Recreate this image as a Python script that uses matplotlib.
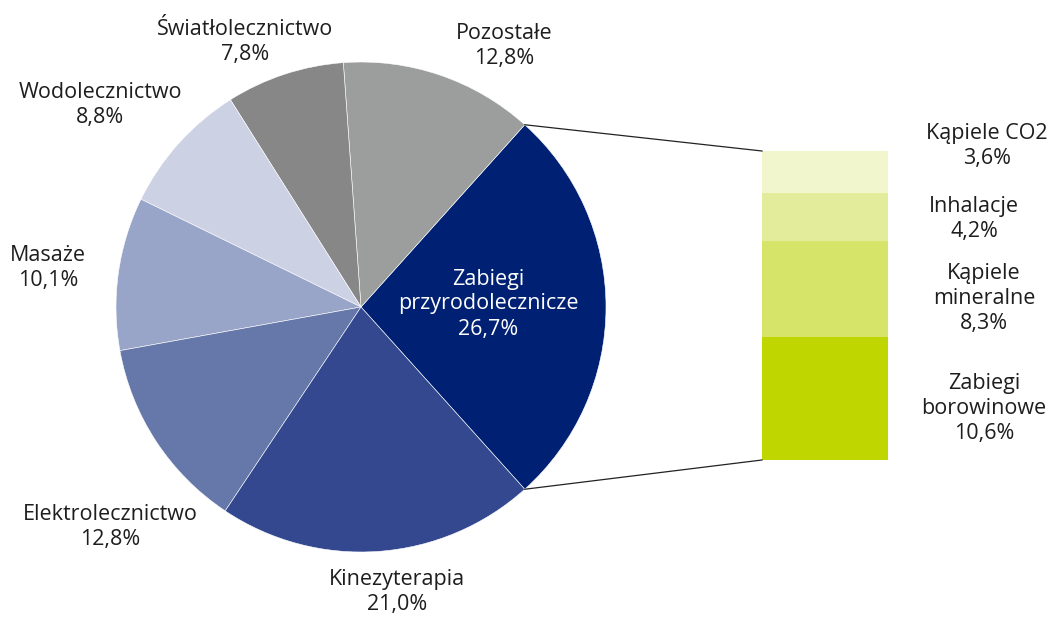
import numpy as np
import matplotlib
matplotlib.use("Agg")
import matplotlib.pyplot as plt

# Main pie data (counterclockwise, starting with the exploded-to-bar slice)
pie_labels = ["Zabiegi\nprzyrodolecznicze", "Pozostałe", "Światłolecznictwo", "Wodolecznictwo",
              "Masaże", "Elektrolecznictwo", "Kinezyterapia"]
pie_values = [26.7, 12.8, 7.8, 8.8, 10.1, 12.8, 21.0]
pie_colors = ["#002173", "#9c9e9d", "#878787", "#ccd2e4", "#99a5c8", "#6677aa", "#33488f"]

# Breakdown of "Zabiegi przyrodolecznicze", bottom to top
bar_labels = ["Zabiegi\nborowinowe", "Kąpiele\nmineralne", "Inhalacje", "Kąpiele CO2"]
bar_values = [10.6, 8.3, 4.2, 3.6]
bar_colors = ["#c0d600", "#d6e46a", "#e3ec9b", "#f1f6cd"]

W, H = 1061, 619
plt.rcParams["font.family"] = ["Open Sans", "DejaVu Sans"]

fig = plt.figure(figsize=(W / 100, H / 100), dpi=100)
ax = fig.add_axes([0, 0, 1, 1])

cx, cy, r = 361, H - 307, 245
start = -pie_values[0] / 100 * 360 / 2
wedges, _ = ax.pie(pie_values, colors=pie_colors, startangle=start, counterclock=True,
                   center=(cx, cy), radius=r, frame=True,
                   wedgeprops=dict(edgecolor="white", linewidth=0.4))
ax.set_xlim(0, W)
ax.set_ylim(0, H)
ax.set_aspect("equal")
ax.axis("off")

# stacked bar for the breakdown
bx, bw = 825, 126
scale = 309 / sum(bar_values)
bottom = H - 460
for v, c in zip(bar_values, bar_colors):
    ax.bar(bx, v * scale, width=bw, bottom=bottom, color=c, linewidth=0)
    bottom += v * scale

# connector lines from the slice edges to the bar corners
w0 = wedges[0]
t1, t2 = np.radians(w0.theta1), np.radians(w0.theta2)
ax.plot([cx + r * np.cos(t2), bx - bw / 2], [cy + r * np.sin(t2), H - 151], color="#222222", lw=0.9)
ax.plot([cx + r * np.cos(t1), bx - bw / 2], [cy + r * np.sin(t1), H - 460], color="#222222", lw=0.9)

fs = 15.5
pie_pos = [(488, 304), (504, 46), (245, 42), (100, 105), (48, 268), (110, 527), (397, 592)]
for lab, v, (x, y), i in zip(pie_labels, pie_values, pie_pos, range(len(pie_values))):
    txt = lab + "\n" + f"{v:.1f}".replace(".", ",") + "%"
    col = "white" if i == 0 else "#1e1e1e"
    ax.text(x, H - y, txt, ha="center", va="center", fontsize=fs, color=col, linespacing=1.25)

bar_pos = [(984, 408), (984, 298), (974, 219), (987, 146)]
for lab, v, (x, y) in zip(bar_labels, bar_values, bar_pos):
    txt = lab + "\n" + f"{v:.1f}".replace(".", ",") + "%"
    ax.text(x, H - y, txt, ha="center", va="center", fontsize=fs, color="#1e1e1e", linespacing=1.25)

fig.savefig("out.png", dpi=100, facecolor="white")
